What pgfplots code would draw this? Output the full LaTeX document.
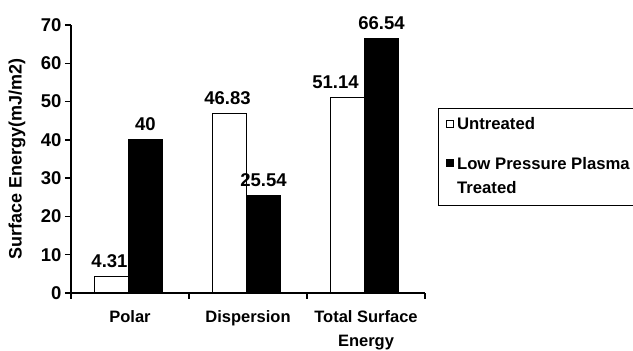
\documentclass[border=0pt]{standalone}
\usepackage{pgfplots}
\pgfplotsset{compat=1.18}
\usepackage{fontspec}
\setmainfont{Liberation Sans}

% ushift: horizontal nudge of the value label above each untreated bar
\pgfplotstableread{
x  untreated plasma ushift
0  4.31      40     -2
1  46.83     25.54  -2
2  51.14     66.54  -12
}\surfaceenergy

% legend swatches; the invisible paths set the spacing of the legend rows
\pgfplotsset{
  swatch first/.style={legend image code/.code={%
    \draw[##1, line width=1pt] (0pt,2.5pt) rectangle (7pt,9.5pt);
    \path[draw=none, fill=none] (0pt,0pt) rectangle (7pt,16pt);}},
  swatch second/.style={legend image code/.code={%
    \draw[##1, line width=1pt] (0pt,2.5pt) rectangle (7pt,9.5pt);
    \path[draw=none, fill=none] (0pt,0pt) rectangle (7pt,35pt);}},
  swatch none/.style={legend image code/.code={%
    \path[draw=none, fill=none] (0pt,-7pt) rectangle (7pt,20pt);}},
}

\begin{document}
\begin{tikzpicture}[x=1pt, y=1pt, font=\bfseries\fontsize{16.5}{20}\selectfont]
\path[use as bounding box] (-71,-58) rectangle (562,293);
\begin{axis}[
  at={(0pt,0pt)}, anchor=south west,
  scale only axis, width=354pt, height=268pt,
  xmin=-0.5, xmax=2.5, ymin=0, ymax=70,
  axis x line*=bottom, axis y line*=left,
  axis line style={line width=1.3pt},
  /pgf/number format/assume math mode=true,
  ytick={0,10,...,70},
  xtick={-0.5,0.5,1.5,2.5},
  x tick label as interval,
  xticklabels={Polar, Dispersion, {Total Surface\\Energy}},
  xticklabel style={align=center, yshift=-8pt, font=\bfseries\fontsize{16.5}{24}\selectfont},
  yticklabel style={font=\bfseries\fontsize{18.5}{20}\selectfont},
  tick align=outside, major tick length=6pt,
  tick style={line width=1.3pt, black},
  ylabel={Surface Energy(mJ/m2)},
  y label style={at={(axis description cs:-0.1525,0.5)}, anchor=center,
    font=\bfseries\fontsize{18}{20}\selectfont},
  ybar=0pt, bar width=34pt,
  nodes near coords,
  every node near coord/.append style={font=\bfseries\fontsize{18.5}{20}\selectfont, yshift=5pt},
  legend style={at={(1.0367,0.690)}, anchor=north west, draw=black, line width=1.2pt,
    font=\bfseries\fontsize{16.7}{20}\selectfont,
    cells={anchor=base west}, row sep=1pt,
    /tikz/every odd column/.append style={column sep=1.5pt},
    inner xsep=7pt, inner ysep=5pt},
]
\addplot[draw=black, fill=white, line width=1.2pt, bar shift=-18.5pt,
  visualization depends on={\thisrow{ushift} \as \lblshift},
  every node near coord/.append style={xshift=\lblshift pt},
  swatch first]
  table[x=x, y=untreated] {\surfaceenergy};
\addplot[draw=black, fill=black, line width=1.2pt, bar shift=15.5pt, swatch second]
  table[x=x, y=plasma] {\surfaceenergy};
\addlegendimage{swatch none}
\legend{Untreated, Low Pressure Plasma, Treated}
\end{axis}
\end{tikzpicture}
\end{document}
